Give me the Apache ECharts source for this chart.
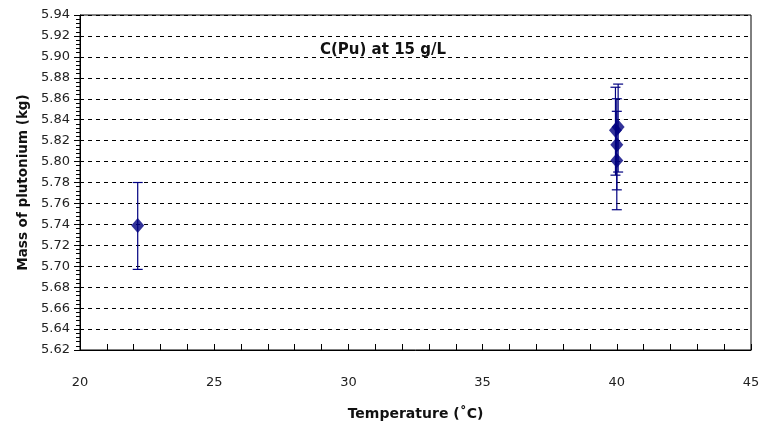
<!DOCTYPE html>
<html>
<head>
<meta charset="utf-8">
<script src="https://cdn.jsdelivr.net/npm/echarts@6/dist/echarts.min.js"></script>
<style>
  html, body { margin: 0; padding: 0; background: #fff; }
  #chart { width: 766px; height: 427px; }
</style>
</head>
<body>
<div id="chart"></div>
<script>
// temperature (°C) and mass of plutonium (kg) with error bar limits
var temps = [22.15, 40.05, 39.95, 40.0, 40.0];
var mass = [5.739, 5.833, 5.830, 5.816, 5.801];
var lows = [5.697, 5.790, 5.787, 5.773, 5.754];
var highs = [5.780, 5.874, 5.871, 5.860, 5.848];

var navy = '#000080';
var font = 'Verdana, "DejaVu Sans", sans-serif';

var points = temps.map(function (t, i) { return [t, mass[i]]; });
var bars = temps.map(function (t, i) { return [t, lows[i], highs[i]]; });

var chart = echarts.init(document.getElementById('chart'));
chart.setOption({
    animation: false,
    title: {
        text: 'C(Pu) at 15 g/L',
        left: 315, top: 38,
        textStyle: { fontFamily: font, fontSize: 15, fontWeight: 'bold', color: '#111' }
    },
    grid: { left: 80, right: 15, top: 15, bottom: 77, show: true, borderColor: '#000', borderWidth: 1 },
    xAxis: {
        type: 'value', min: 20, max: 45, interval: 5,
        name: 'Temperature (˚C)', nameLocation: 'middle', nameGap: 57,
        nameTextStyle: { fontFamily: font, fontSize: 14, fontWeight: 'bold', color: '#111' },
        axisLine: { lineStyle: { color: '#000' } },
        axisTick: { inside: true, length: 6, lineStyle: { color: '#000' } },
        minorTick: { show: true, splitNumber: 5, length: 6, lineStyle: { color: '#000' } },
        axisLabel: { margin: 26, fontFamily: font, fontSize: 13, color: '#222' },
        splitLine: { show: false }
    },
    yAxis: {
        type: 'value', min: 5.62, max: 5.94, interval: 0.02,
        name: 'Mass of plutonium (kg)', nameLocation: 'middle', nameGap: 46,
        nameTextStyle: { fontFamily: font, fontSize: 13.5, fontWeight: 'bold', color: '#111' },
        axisLine: { lineStyle: { color: '#000' } },
        axisTick: { length: 6, lineStyle: { color: '#000' } },
        minorTick: { show: true, splitNumber: 5, length: 4, lineStyle: { color: '#000' } },
        axisLabel: {
            margin: 10, fontFamily: font, fontSize: 13, color: '#222',
            formatter: function (v) { return v.toFixed(2); }
        },
        splitLine: { show: true, lineStyle: { color: '#000', type: [4, 4], width: 1 } }
    },
    series: [
        {
            type: 'custom',
            data: bars,
            renderItem: function (params, api) {
                var lo = api.coord([api.value(0), api.value(1)]);
                var hi = api.coord([api.value(0), api.value(2)]);
                var w = 5;
                var st = { stroke: navy, lineWidth: 1.2 };
                return {
                    type: 'group',
                    children: [
                        { type: 'line', shape: { x1: lo[0], y1: lo[1], x2: hi[0], y2: hi[1] }, style: st },
                        { type: 'line', shape: { x1: lo[0] - w, y1: lo[1], x2: lo[0] + w, y2: lo[1] }, style: st },
                        { type: 'line', shape: { x1: hi[0] - w, y1: hi[1], x2: hi[0] + w, y2: hi[1] }, style: st }
                    ]
                };
            },
            z: 2
        },
        {
            type: 'scatter',
            data: points,
            symbol: 'diamond',
            symbolSize: [13, 15],
            itemStyle: { color: navy },
            z: 3
        }
    ]
});
</script>
</body>
</html>
